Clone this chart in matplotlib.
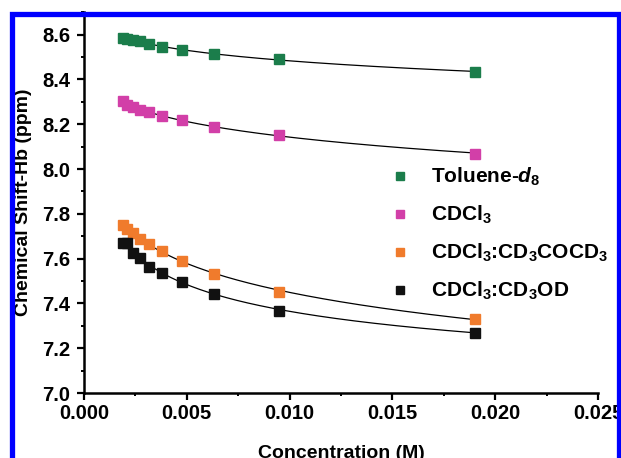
import numpy as np
import matplotlib.pyplot as plt
from matplotlib.patches import Rectangle
from matplotlib.ticker import MultipleLocator, FormatStrFormatter

plt.rcParams['font.family'] = ['Liberation Sans', 'DejaVu Sans']
plt.rcParams['font.weight'] = 'bold'
plt.rcParams['mathtext.fontset'] = 'custom'
plt.rcParams['mathtext.rm'] = 'Liberation Sans:bold'
plt.rcParams['mathtext.bf'] = 'Liberation Sans:bold'
plt.rcParams['mathtext.it'] = 'Liberation Sans:bold:italic'
plt.rcParams['mathtext.default'] = 'bf'

# concentration (M)
conc = [0.0019, 0.00211, 0.00238, 0.00271, 0.00317, 0.0038, 0.00475, 0.00633, 0.0095, 0.019]

# chemical shift of Hb (ppm)
toluene = [8.587, 8.582, 8.577, 8.571, 8.557, 8.545, 8.532, 8.514, 8.489, 8.435]
cdcl3 = [8.302, 8.288, 8.277, 8.265, 8.253, 8.235, 8.217, 8.188, 8.154, 8.069]
acetone = [7.752, 7.734, 7.716, 7.689, 7.666, 7.636, 7.588, 7.533, 7.451, 7.331]
methanol = [7.671, 7.668, 7.627, 7.604, 7.564, 7.538, 7.497, 7.444, 7.368, 7.270]

labels = [r'Toluene-$\mathit{d}_8$', r'CDCl$_3$', r'CDCl$_3$:CD$_3$COCD$_3$', r'CDCl$_3$:CD$_3$OD']
colors = ['#1b7d4b', '#d23fa8', '#f07b2c', '#111111']
series = [toluene, cdcl3, acetone, methanol]

fig = plt.figure(figsize=(6.21, 4.58), dpi=100)
ax = fig.add_axes([0.1353, 0.1419, 0.8277, 0.8314])

x = np.array(conc)
xs = np.linspace(x.min(), x.max(), 300)
for ys, c, lab in zip(series, colors, labels):
    # smooth fitted curve through each data set
    p = np.polyfit(np.log(x), ys, 2)
    ax.plot(xs, np.polyval(p, np.log(xs)), color='black', lw=0.9, zorder=2)
    ax.plot(x, ys, 's', color=c, ms=6.5, mec=c, label=lab, zorder=3)

ax.set_xlim(0, 0.025)
ax.set_ylim(7.0, 8.7)
ax.xaxis.set_major_locator(MultipleLocator(0.005))
ax.xaxis.set_minor_locator(MultipleLocator(0.0025))
ax.yaxis.set_major_locator(MultipleLocator(0.2))
ax.yaxis.set_minor_locator(MultipleLocator(0.1))
ax.xaxis.set_major_formatter(FormatStrFormatter('%.3f'))
ax.yaxis.set_major_formatter(FormatStrFormatter('%.1f'))

for s in ['top', 'right']:
    ax.spines[s].set_visible(False)
for s in ['left', 'bottom']:
    ax.spines[s].set_linewidth(1.8)

ax.tick_params(which='major', direction='out', length=5, width=1.6, labelsize=14.5)
ax.tick_params(which='minor', direction='out', length=2.5, width=1.4)
ax.tick_params(axis='x', which='major', pad=3)
ax.tick_params(axis='y', which='major', pad=5)

ax.set_xlabel('Concentration (M)', fontsize=14, fontweight='bold')
ax.set_ylabel('Chemical Shift-Hb (ppm)', fontsize=14, fontweight='bold')
ax.xaxis.set_label_coords(0.5, -0.137)
ax.yaxis.set_label_coords(-0.101, 0.5)

leg = ax.legend(loc='upper left', bbox_to_anchor=(0.553, 0.645), frameon=False,
                fontsize=15, markerscale=0.8, handletextpad=0.9,
                labelspacing=0.75, handlelength=1.2)

# blue border around the figure
fig.patches.append(Rectangle((11.5 / 621, -0.1), 607 / 621, 1.1 - 14.5 / 458,
                             transform=fig.transFigure, fill=False,
                             edgecolor='#0000ff', lw=3.8, zorder=10))

fig.savefig('out.png', dpi=100)
